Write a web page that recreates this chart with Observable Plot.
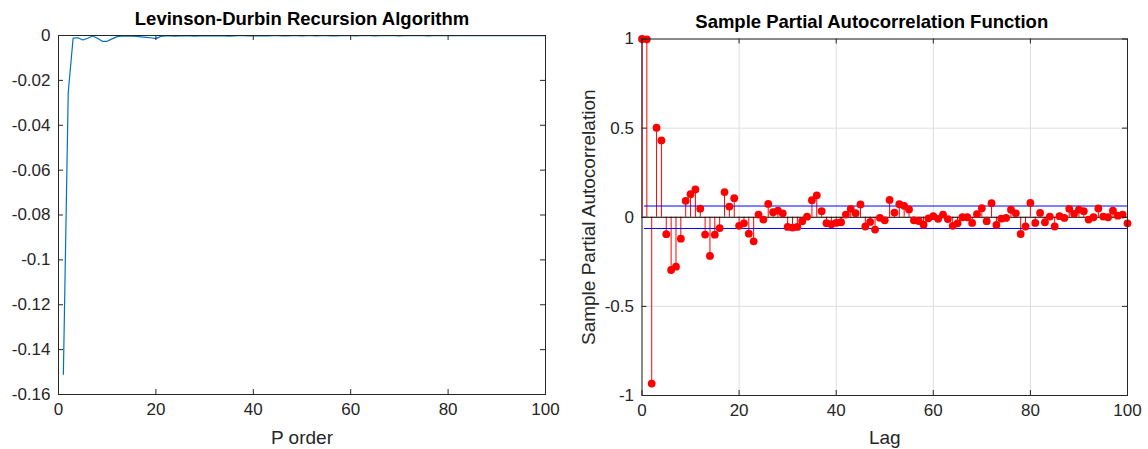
<!DOCTYPE html>
<html>
<head>
<meta charset="utf-8">
<script src="https://cdn.jsdelivr.net/npm/d3@7"></script>
<script src="https://cdn.jsdelivr.net/npm/@observablehq/plot@0.6"></script>
<style>
  html, body { margin: 0; padding: 0; background: #ffffff; }
  #wrap { position: relative; width: 1148px; height: 449px; background: #ffffff; }
  #left, #right { position: absolute; top: 0; }
  #left { left: 0; }
  #right { left: 574px; }
  svg { overflow: visible; }
</style>
</head>
<body>
<div id="wrap"><div id="left"></div><div id="right"></div></div>
<script>
// ---------- Data ----------
const leftTitle = "Levinson-Durbin Recursion Algorithm";
const leftXLabel = "P order";
const rightTitle = "Sample Partial Autocorrelation Function";
const rightXLabel = "Lag";
const rightYLabel = "Sample Partial Autocorrelation";

const leftXTicks = [0, 20, 40, 60, 80, 100];
const leftYTicks = [0, -0.02, -0.04, -0.06, -0.08, -0.1, -0.12, -0.14, -0.16];
const rightXTicks = [0, 20, 40, 60, 80, 100];
const rightYTicks = [1, 0.5, 0, -0.5, -1];

// Levinson-Durbin result for orders P = 1..100
const pOrder = d3.range(1, 101);
const ldValues = [
  -0.151, -0.0253, -0.0012, -0.0010, -0.0020, -0.0012, -0.0002, -0.0012, -0.0026, -0.0026,
  -0.0015, -0.0005, -0.0003, -0.0002, -0.0003, -0.0004, -0.0006, -0.0008, -0.0010, -0.0014,
  -0.0004, -0.0002, -0.0002, -0.0003, -0.0002, -0.0001, -0.0002, -0.0003, -0.0002, -0.0001,
  -0.0002, -0.0002, -0.0001, -0.0002, -0.0003, -0.0002, -0.0001, -0.0001, -0.0002, -0.0002,
  -0.0001, -0.0002, -0.0002, -0.0001, -0.0001, -0.0002, -0.0002, -0.0001, -0.0001, -0.0002,
  -0.0001, -0.0001, -0.0002, -0.0001, -0.0001, -0.0002, -0.0002, -0.0001, -0.0001, -0.0001,
  -0.0002, -0.0001, -0.0001, -0.0001, -0.0002, -0.0001, -0.0001, -0.0001, -0.0001, -0.0002,
  -0.0001, -0.0001, -0.0001, -0.0001, -0.0001, -0.0002, -0.0001, -0.0001, -0.0001, -0.0001,
  -0.0001, -0.0001, -0.0001, -0.0001, -0.0001, -0.0001, -0.0001, -0.0001, -0.0001, -0.0001,
  -0.0001, -0.0001, -0.0001, -0.0001, -0.0001, -0.0001, -0.0001, -0.0001, -0.0001, -0.0001
];

// Sample partial autocorrelation for lags 0..100
const lags = d3.range(0, 101);
const pacfValues = [
  1, 0.998, -0.933, 0.502, 0.431, -0.095, -0.296, -0.277, -0.12, 0.092,
  0.129, 0.156, 0.048, -0.097, -0.217, -0.098, -0.061, 0.141, 0.06, 0.107,
  -0.048, -0.034, -0.092, -0.135, 0.015, -0.013, 0.075, 0.028, 0.037, 0.022,
  -0.054, -0.058, -0.054, -0.022, 0.003, 0.096, 0.123, 0.034, -0.033, -0.039,
  -0.032, -0.028, 0.015, 0.047, 0.023, 0.072, -0.052, -0.026, -0.069, -0.003,
  -0.017, 0.097, 0.026, 0.073, 0.064, 0.044, -0.017, -0.021, -0.042, -0.006,
  0.006, -0.009, 0.015, -0.010, -0.048, -0.034, 0.000, 0.000, -0.032, 0.017,
  0.051, -0.022, 0.079, -0.043, -0.008, -0.004, 0.042, 0.022, -0.094, -0.052,
  0.080, -0.032, 0.024, -0.028, 0.004, -0.052, 0.006, -0.004, 0.047, 0.019,
  0.043, 0.034, -0.013, 0.000, 0.049, 0.004, 0.000, 0.037, 0.009, 0.015,
  -0.034
];
const confBounds = [0.063, -0.063];

// ---------- Tables ----------
const ldData = pOrder.map((p, i) => ({p, v: ldValues[i]}));
const pacfData = lags.map((l, i) => ({lag: l, v: pacfValues[i]}));

const axisColor = "#262626";
const fontFamily = "'Liberation Sans', Arial, Helvetica, sans-serif";
const fmt = d => (d === 0 ? "0" : String(d));
const tickFont = 17;
const labelFont = 19;
const titleFont = 18.5;

// ---------- Left chart ----------
const L = {w: 574, h: 449, ml: 58, mr: 29, mt: 35, mb: 55};
const Lfw = L.w - L.ml - L.mr, Lfh = L.h - L.mt - L.mb;
const tick = 5;

const leftPlot = Plot.plot({
  width: L.w, height: L.h,
  marginLeft: L.ml, marginRight: L.mr, marginTop: L.mt, marginBottom: L.mb,
  x: {domain: [0, 100]},
  y: {domain: [-0.16, 0]},
  style: {fontFamily, fontSize: tickFont + "px", color: axisColor, background: "white", overflow: "visible"},
  marks: [
    Plot.line(ldData, {x: "p", y: "v", stroke: "#0072BD", strokeWidth: 1.2}),
    Plot.frame({stroke: axisColor, strokeWidth: 1}),
    Plot.tickX(leftXTicks, {x: d => d, insetTop: Lfh - tick, stroke: axisColor}),
    Plot.tickX(leftXTicks, {x: d => d, insetBottom: Lfh - tick, stroke: axisColor}),
    Plot.tickY(leftYTicks, {y: d => d, insetRight: Lfw - tick, stroke: axisColor}),
    Plot.tickY(leftYTicks, {y: d => d, insetLeft: Lfw - tick, stroke: axisColor}),
    Plot.axisX(leftXTicks, {tickSize: 0, tickPadding: 8, label: null, tickFormat: fmt, fontSize: tickFont, fill: axisColor}),
    Plot.axisY(leftYTicks, {tickSize: 0, tickPadding: 8, label: null, tickFormat: fmt, fontSize: tickFont, fill: axisColor}),
    Plot.text([leftXLabel], {frameAnchor: "bottom", lineAnchor: "middle", dy: 43, fontSize: labelFont, fill: axisColor}),
    Plot.text([leftTitle], {frameAnchor: "top", lineAnchor: "middle", dy: -16, fontSize: titleFont, fontWeight: "bold", fill: "#000"})
  ]
});
document.getElementById("left").appendChild(leftPlot);

// ---------- Right chart ----------
const R = {w: 574, h: 449, ml: 67.5, mr: 21, mt: 38.5, mb: 54};
const Rfw = R.w - R.ml - R.mr, Rfh = R.h - R.mt - R.mb;

const rightPlot = Plot.plot({
  width: R.w, height: R.h,
  marginLeft: R.ml, marginRight: R.mr, marginTop: R.mt, marginBottom: R.mb,
  x: {domain: [0, 100]},
  y: {domain: [-1, 1]},
  style: {fontFamily, fontSize: tickFont + "px", color: axisColor, background: "white", overflow: "visible"},
  marks: [
    Plot.gridX(rightXTicks, {stroke: "#dedede", strokeOpacity: 1}),
    Plot.gridY(rightYTicks, {stroke: "#dedede", strokeOpacity: 1}),
    Plot.ruleX(pacfData, {x: "lag", y1: 0, y2: "v", stroke: "#ff0000", strokeWidth: 1}),
    Plot.ruleY([0], {x1: 0, x2: 100, stroke: "#000", strokeWidth: 1}),
    Plot.ruleY(confBounds, {x1: 0.5, x2: 100, stroke: "#0000ff", strokeWidth: 1}),
    Plot.dot(pacfData, {x: "lag", y: "v", r: 3.9, fill: "#ff0000", stroke: "none"}),
    Plot.frame({stroke: axisColor, strokeWidth: 1}),
    Plot.tickX(rightXTicks, {x: d => d, insetTop: Rfh - tick, stroke: axisColor}),
    Plot.tickX(rightXTicks, {x: d => d, insetBottom: Rfh - tick, stroke: axisColor}),
    Plot.tickY(rightYTicks, {y: d => d, insetRight: Rfw - tick, stroke: axisColor}),
    Plot.tickY(rightYTicks, {y: d => d, insetLeft: Rfw - tick, stroke: axisColor}),
    Plot.axisX(rightXTicks, {tickSize: 0, tickPadding: 8, label: null, tickFormat: fmt, fontSize: tickFont, fill: axisColor}),
    Plot.axisY(rightYTicks, {tickSize: 0, tickPadding: 8, label: null, tickFormat: fmt, fontSize: tickFont, fill: axisColor}),
    Plot.text([rightXLabel], {frameAnchor: "bottom", lineAnchor: "middle", dy: 42, fontSize: labelFont, fill: axisColor}),
    Plot.text([rightYLabel], {frameAnchor: "left", textAnchor: "middle", lineAnchor: "middle", dx: -53.5, rotate: -90, fontSize: labelFont, fill: axisColor}),
    Plot.text([rightTitle], {frameAnchor: "top", lineAnchor: "middle", dx: -13, dy: -16.5, fontSize: titleFont, fontWeight: "bold", fill: "#000"})
  ]
});
document.getElementById("right").appendChild(rightPlot);
</script>
</body>
</html>
